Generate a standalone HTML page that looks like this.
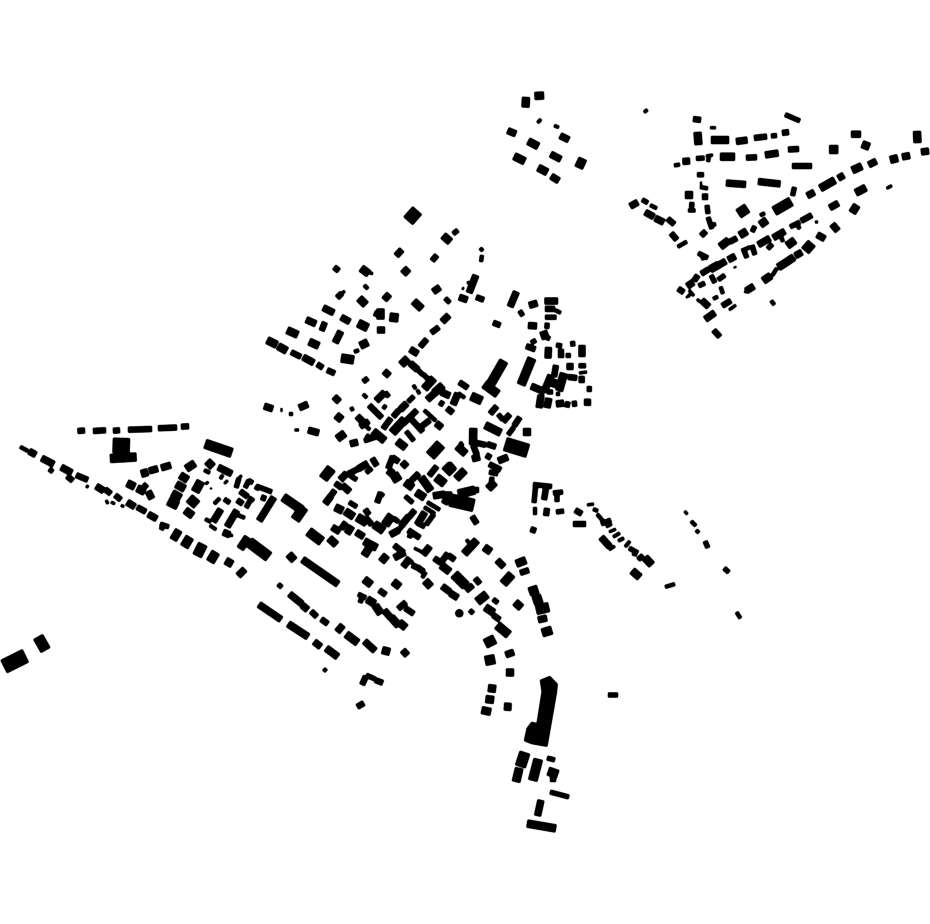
<!DOCTYPE html>
<html><head><meta charset="utf-8"><title>Map</title>
<style>html,body{margin:0;padding:0;background:#fff;width:930px;height:924px;overflow:hidden}svg{display:block}</style></head>
<body>
<svg xmlns="http://www.w3.org/2000/svg" width="930" height="924" viewBox="0 0 930 924" fill="none" stroke="#000">
<defs><filter id="d" x="0" y="0" width="930" height="924" filterUnits="userSpaceOnUse" color-interpolation-filters="sRGB"><feGaussianBlur stdDeviation="0.7"/><feComponentTransfer><feFuncA type="linear" slope="2.5" intercept="-0.35"/></feComponentTransfer></filter></defs>
<g filter="url(#d)">
<!-- SW -->
<path stroke-width="14.6" d="M3.7 666.7 25.7 655.7"/>
<path stroke-width="11" d="M38 636.7 45.7 650.3"/>
<path stroke-width="6" d="M77.5 431 85 430.5M93 431 106 430.3M113 430.7 120 430.3M128 429.7 152 429M158 428.3 177 427.5M181 426.7 189 426.3"/>
<path stroke-width="17" d="M121.5 438 121 453"/>
<path stroke-width="9" d="M110 458.5 136.5 457"/>
<path stroke-width="4" d="M20 446.7 28 451"/>
<path stroke-width="7" d="M29 451 36 455M41.5 458 54 464.5M61 467 72 473M96 486 104 491M127 502 135 507M148 514 157 519M149 471 158 468.5M161 468 171 465M148 491 152 499M238 576 245 569"/>
<path stroke-width="6" d="M76 475 88 480M67 476 73 481M105 489 111 494M115 495 121 500M137 507 146 512"/>
<path stroke-width="5" d="M49 469 53 472M160 524 169 527M163 526 161 530"/>
<path stroke-width="3" d="M86.5 488 88 485M106 500 108 504M111 502 115 504M121 505 124 507"/>
<path stroke-width="8" d="M179 530 173 540M231 559 227 566M141 474 148 472M127 483 135 487M137 488 145 492M186 469 195 463M180 475 188 480M176 484 185 489M172 493 181 498M185 510 193 516M207 461 213 467"/>
<path stroke-width="9" d="M190 537 184 547M216 552 210 562M168 501 178 506M201 481 195 492"/>
<path stroke-width="10" d="M203 544 197 556M205 443.7 232 453M189 498 197 505M295 520 304 507"/>
<path stroke-width="6" d="M144 487 147 484M240 491 248 497M261 497 266 499M237 500 243 504"/>
<path stroke-width="7" d="M218 467 232 474M274 497 259 521M221 509 213 522M237 510 227 527M223 532 230 535"/>
<path stroke-width="4" d="M204 470 210 473M206 482 208 484M250 498 254 501M220 498 214 504M205 519 211 522M235 514 245 518M231 534 231 537"/>
<path stroke-width="5" d="M220 476 223 478M225 481 227 483M239 478 236 488M239 476 241 478M249 480 245 488M248 480 253 483M256 486 272 492M258 486 256 490M252 497 246 508M224 499 230 503"/>
<path stroke-width="8" d="M214 526 212 529M248 537 240 549"/>
<path stroke-width="2" d="M210 488 212 489"/>
<path stroke-width="11" d="M249 542 269 557"/>
<path stroke-width="9" d="M283 497 302 510M324 478 332 469"/>
<path stroke-width="10" d="M308.3 531.3 322 541.7"/>
<path stroke-width="8" d="M288.5 554 294.5 560.5M329 538 336.5 545"/>
<path stroke-width="7.5" d="M302.3 559.3 338.3 584.3M326 648 338 657M288 623.7 308.3 637"/>
<path stroke-width="5" d="M278 584 282 587.5M366 675 375 679"/>
<path stroke-width="7" d="M289.3 593.7 302 604M302 605 308 610M258.7 604.3 281.3 619.7M314 641.5 321 647M337 632 343 625M364.3 641 375.3 651M402.5 650 407.5 655.5"/>
<path stroke-width="6" d="M311 611 317 617M321 619 328 624M366 676 362 685M375 680 383 683M357 707 364 703"/>
<path stroke-width="4" d="M323.5 671.5 326.5 668.5"/>
<path stroke-width="8" d="M346 634 358 643M382 650 390 652"/>
<!-- centre south -->
<path stroke-width="8" d="M364 579 371.5 585M393 581.5 400 587M367 599 375 604M375 605 381 614M391 617 399 626M399 622 406 628"/>
<path stroke-width="6" d="M379 590 386 595M398 609 406 602M405 608 414 614"/>
<path stroke-width="5" d="M358 594 366 598M362 597 360 603"/>
<path stroke-width="7" d="M384 610 391 618"/>
<path stroke-width="6" d="M381 492 377 503M330 497 335 490M335 483 342 488M348 474 358 469M372 458 377 466M411 481 419 473M429 476 437 466"/>
<path stroke-width="4" d="M380 493 384 496"/>
<path stroke-width="7" d="M325 504 331 496M342 485 350 492M340 480 347 473M358 469 368 463"/>
<path stroke-width="5" d="M350 475.5 357 480M366 473 372 468"/>
<path stroke-width="10" d="M323 479 331.5 468M445 465 453 473"/>
<path stroke-width="6" d="M392 457 399 462M393 456 388 469"/>
<path stroke-width="7" d="M402 462 407 467"/>
<path stroke-width="8" d="M388 470 393 474M405 482 413 488M421 477 431 491M456 479 465 470"/>
<path stroke-width="9" d="M392 480 400 475M436 477 445 484"/>
<path stroke-width="5" d="M449 463 455 470M460 445 463 443"/>
<path stroke-width="11" d="M430 456 441 444"/>
<path stroke-width="8" d="M457 446 466 454M473.3 428 473 445"/>
<path stroke-width="6" d="M473 445 477 455M477 443 486 445M487 444 496 447M486 455 491 458M489 464 501 470"/>
<path stroke-width="7" d="M472 459 480 457M498 461 508 457"/>
<path stroke-width="5" d="M489 472 498 474M492 477 491 485"/>
<path stroke-width="8" d="M488 489 495 482M485 425 501 433M523 432 531 432"/>
<path stroke-width="14" d="M505 444 528 451"/>
<path stroke-width="5" d="M508 435 514 427"/>
<path stroke-width="6" d="M514 426 520 417M490 414 497 406M503 422 510 414"/>
<path stroke-width="5" d="M498 414 503 420"/>
<path stroke-width="9.5" d="M504 360.7 491 383.3"/>
<path stroke-width="9" d="M484 384 498 394.3M471 396 482 401"/>
<path stroke-width="6" d="M459 382 468 388"/>
<path stroke-width="7" d="M453 405 458 393M441 392 450 396M427 400 436 392"/>
<path stroke-width="4" d="M458 393 465 398"/>
<path stroke-width="8" d="M448 413 452 408M434 393 443 385M424 389 434 378M401 365 408 358"/>
<path stroke-width="5" d="M440 406 443 401M418 370 423 375M423 374 428 379"/>
<path stroke-width="7" d="M410 363 418 370M410 349 418 354M442 322 449 315M459 297 467.5 300M433 292 440 287"/>
<path stroke-width="6" d="M420 347 427 339M431 333 439 327M476 297 484 300"/>
<path stroke-width="8" d="M413.5 301 422 309"/>
<path stroke-width="5" d="M445 298 450 303M453 234 458 230"/>
<path stroke-width="7" d="M476 275 469 293"/>
<path stroke-width="3" d="M462 288 464 289M467 282 473 285"/>
<path stroke-width="4" d="M482 255 481 262M480 248 483 251"/>
<path stroke-width="8" d="M443 235.4 450.5 242"/>
<path stroke-width="12.5" d="M408 221 417.4 210.4"/>
<path stroke-width="6.5" d="M396 256 402 249.5"/>
<!-- NW scatter -->
<path stroke-width="6" d="M432 261 437 255M334 267 339 271M337 298 342 293"/>
<path stroke-width="8" d="M403 268.5 408.5 274M361 268 369 274M359 298 366 305M380.5 308.5 380.5 319.5M267 340 277 345M278 346 287 351M287 330 298 335M309 341.5 319 346M360 346 368 342"/>
<path stroke-width="3" d="M368 272 373 274M342 293 345 291"/>
<path stroke-width="4" d="M364 285 368 289M354 352 359 350M363 394 367 398M351 407 353 411"/>
<path stroke-width="7" d="M384 300 389.5 294M377 330 385 330M323 307.5 334 313M341 317 350 322M306 319.5 316 324M341 331 335 343M303 357 314 363M384 371 389.5 376M264 406 273 409M299 408 308 404M308 430 319 433"/>
<path stroke-width="6" d="M374 313 378 314.5M325 322 321.5 331M291 352 301 357M317 364 323 368M327 370 335 373.5"/>
<path stroke-width="9" d="M394.5 313 393.5 322M358 323 368 328M341 358 354 360"/>
<path stroke-width="5.5" d="M363 382 368 378"/>
<path stroke-width="2" d="M281.5 408 281.5 412"/>
<path stroke-width="4" d="M289 414 293 414"/>
<path stroke-width="3" d="M294.5 430 299 430"/>
<path stroke-width="8" d="M337 439 345 433M336 415 342 420M373 431 385 441M397 441 406 448"/>
<path stroke-width="7" d="M334 396.5 339.5 402M357 416 363 422M376 401 385 392M350 444 358 442"/>
<path stroke-width="6" d="M360 427 369 421M369 405 382 418M393 417 399 410M383 429 391 418M403 424 411 416M412 420 423 432M422 426 430 420"/>
<path stroke-width="5" d="M385 392 389 397M408 402 414 396M417 393 420 391M413 388 416 386M364 441 376 437M366 435 372 440M406 431 414 441"/>
<path stroke-width="4" d="M364 424 370 430M383 409 386 405M424 410 436 421"/>
<path stroke-width="7" d="M400 410 407 403M436 423 442 428"/>
<path stroke-width="6" d="M410 417 417 410"/>
<path stroke-width="9" d="M392 433 405 419"/>
<!-- south-centre rows -->
<path stroke-width="8" d="M335 507 343 511M345 511 354 517"/>
<path stroke-width="5" d="M349 502 357 507"/>
<path stroke-width="6" d="M365 509 369 515M366 518 372 525M341 529 346 522M409 517 415 510"/>
<path stroke-width="9" d="M357 517 367 523M374 524 384 531M385 525 392 515"/>
<path stroke-width="7" d="M332 527 340 532M347 534 352 526M356 532 364 537M401 526 409 516M417 525 425 512"/>
<path stroke-width="5" d="M393.5 518 398.5 522M405 496 413 503M426 525 434 514M417 523 425 527M396 533 403 525M411 533 409 538"/>
<path stroke-width="8" d="M416 492 425 498M364 541 377 548M371 545 364 556"/>
<path stroke-width="4" d="M427 502 440 510M424 507 435 514"/>
<path stroke-width="7" d="M390 535 399 530M394 558 405 552M403 567 410 558"/>
<path stroke-width="6" d="M408 530 420 538M394 545 404 553M412 565 418 568M417 567 424 572M448 555 455 560M440 564 448 553M434 558 441 563M466 591 473 585M475 578 480 584"/>
<path stroke-width="9" d="M381 556 387 561"/>
<path stroke-width="4" d="M407 560 413 563M422 578 426 572M466 542 469 540"/>
<path stroke-width="8" d="M425 580.5 431 587M441 565 450 572M464 554 477 540M484 547 491 552"/>
<path stroke-width="3" d="M414 548 422 552"/>
<path stroke-width="7" d="M423 555 430 546M442 586 450 592M450 593 458 598M497 560 504 567"/>
<path stroke-width="10" d="M454 574 466 586"/>
<path stroke-width="8" d="M516 564 526 560"/>
<path stroke-width="6" d="M520 573 529 570M472 516 477 524M530.5 529 536 531"/>
<path stroke-width="9" d="M503 584 512 574M529 592 538 589M533 601 542 598M542 633 552 630M477 602 487 594M497 625 509 635"/>
<path stroke-width="10" d="M536 610 549 607M485 644 495 639M485 661 495 659"/>
<path stroke-width="7" d="M538 620 547 618M505.5 655 514 652"/>
<path stroke-width="8" d="M515 602 521.5 608M485 607 494 613M506 672.5 514 672.5M488 688 496 689M485.5 699 494 700M481.5 710 491 712M504 706.5 511.5 707"/>
<path stroke-width="5" d="M493 599 498 603M469.5 610 473.5 613.5"/>
<path stroke-width="6" d="M493 615 500 620"/>
<circle cx="459.3" cy="613.3" r="4" fill="#000" stroke="none"/>
<!-- town hall block -->
<path stroke-width="13" d="M450 500 474 505.5"/>
<path stroke-width="9" d="M458 494 475 490"/>
<path stroke-width="6" d="M474 490 479 490"/>
<path stroke-width="7" d="M433 496 445 494M444 504 448 497"/>
<path stroke-width="5" d="M445 494 452 494"/>
<!-- E U-group -->
<path stroke-width="5" d="M533 484.5 552 486.5M535.5 487 534 503M557 491 557 502M553 493 563 492M556 512 564 511"/>
<path stroke-width="6" d="M546 488 544 500M547 508 546 516M575 510 582 514M573 524 586 524"/>
<path stroke-width="4" d="M535 507 535 515M593 509 598 511M597 514 603 521"/>
<path stroke-width="3" d="M587 505 594 504M606 527 612 524M609 532 616 529"/>
<path stroke-width="5" d="M601 524 611 520M629 548 638 553M636 550 634 556M638 560 643 555"/>
<path stroke-width="3.5" d="M613 537 620 533M618 541 624 538M625 547 630 541"/>
<path stroke-width="8" d="M644.7 557.3 652 565M632 570.5 640 577.5"/>
<path stroke-width="7" d="M601 537 610 547"/>
<path stroke-width="3" d="M609 550 615 546M684.5 511 687.5 514.5"/>
<path stroke-width="4" d="M665 587 675 584M691 521 696 526M696 530 699 533M736.5 612 740.5 618.5"/>
<path stroke-width="5" d="M705 541 708 548M724 568 729 572.5M608 695 618 695"/>
<!-- S complex -->
<polygon fill="#000" stroke="none" points="540,680 550,676 557.7,684 556.7,693.3 547.3,746.7 531.7,744 524,741 526.7,728.3 531.7,721.7 536.7,723.3 541.7,691.7"/>
<path stroke-width="11" d="M525 752.3 520.3 766.7"/>
<path stroke-width="8.5" d="M519.3 768 516 782"/>
<path stroke-width="9.5" d="M538.3 759 532.7 780.7"/>
<path stroke-width="5" d="M547 758 555 760M550 792 569 797"/>
<path stroke-width="9" d="M548 771 558 774.5"/>
<path stroke-width="6" d="M553 775 553 782"/>
<path stroke-width="7" d="M541 800 537.5 816"/>
<path stroke-width="8" d="M527 823.5 556 828.5"/>
<!-- N cluster -->
<path stroke-width="8" d="M526 97 525.5 107.5M534.5 96 544 95.5M528 141 538.5 146.5M514 156 525 161.5M538 167.5 547.5 172.5"/>
<path stroke-width="3.5" d="M537.5 123 541 119M554 125.5 559 127.5"/>
<path stroke-width="7" d="M507.5 130.5 516 134M560 135.5 569 140M550.5 154 561 159.5M551 176 559 181"/>
<path stroke-width="9" d="M578.5 168 583 158.5"/>
<!-- NE -->
<path stroke-width="3.5" d="M644 112.5 647.5 109.5"/>
<path stroke-width="6" d="M693 119 701 120M782 133 789 132M754 138 767 136.5M788 149.5 799 149M746 157.7 757 157.3M792 166 812 166"/>
<path stroke-width="3" d="M710 127.7 716 127.7M706 156 713 155M886.5 188.5 892 185.5"/>
<path stroke-width="5" d="M785 114.5 800 121M771 136 777 135.5M696 158.5 704.5 158M697 174.7 704 174.7M794.5 187 792.5 196"/>
<path stroke-width="8" d="M697.5 132 698.5 145M711 140 729 140M917 131 917.5 143M862 144 869.5 147M720 156.7 735 156.7M890 160 898 158M852 170.5 862 166M820 188.5 835 180M855.5 193 866 187.5M852 213 857 205"/>
<path stroke-width="7" d="M736 141.5 747.5 140M851 134.3 861 134.3M921 152 929 151M902 157 910 155.5M868.5 165 876.5 161M765 155 778.5 153M682.5 161.5 690 161M726 183 746 184.5M758 181.5 780.5 184M807 196 814.5 192M838 178.5 844 175M829.5 208 838.5 203M832 224 838 231M817 234.5 825 239"/>
<path stroke-width="9" d="M833.7 145 833.7 154"/>
<path stroke-width="4" d="M709 156 708 162M674 165.5 680 164.5M700 187 708 188.5M688 210.5 695.5 210.5"/>
<path stroke-width="7" d="M700 185 702 185"/>
<path stroke-width="8" d="M685 195 693 195"/>
<path stroke-width="6" d="M705 193.5 705 200M701 236 706 231"/>
<path stroke-width="5" d="M692 202 691.5 208M707 205 708 214M708 217 712 229"/>
<path stroke-width="4" d="M712 225 716 224M760 215.5 765 213"/>
<path stroke-width="11" d="M740 206.7 745.7 215.3"/>
<path stroke-width="10" d="M774 211.3 791.3 201.3M805 251 812 243"/>
<path stroke-width="8" d="M760 225 767 220M739.5 235.5 747 231M720 247 729 240M710 269.5 719 264.5M787 246 795 240M786 262.5 794 257M778 267.5 786 262.5M763 281 771 275.5"/>
<path stroke-width="5" d="M752 232 755 226M698 253 708 258M702 254 704 260M743 248 747 258M752 245 755 255M767.5 249 772.5 244M790 227 800 222"/>
<path stroke-width="6" d="M729.5 242 737 238M701 274 709 269M801 221 812 215"/>
<path stroke-width="7" d="M718 265.5 726 261M728 260 735.5 256M758 245 770 238M773 238 785 231M795 256 802 252M746 291 754 286"/>
<path stroke-width="4" d="M742 251 750 247M780 233 783 242M797 225 800 229M772 276 777 268M771 300.5 774.5 305M720.5 286.5 723 294"/>
<path stroke-width="3" d="M815 222 818 222M745 293 747 289"/>
<path stroke-width="2" d="M733.5 268 736.5 266.5"/>
<path stroke-width="5" d="M711 275 715 283M718 280 725 275M698.5 286 705 283"/>
<path stroke-width="6" d="M694 281 698 275M678 288.5 684 292.5"/>
<path stroke-width="7" d="M687 286.5 693.5 282M701.5 300 709 307M705 319.5 715 312.5"/>
<path stroke-width="3" d="M689 290 694 296M690 294 688 297M697 299 700 302M729 310 736 305"/>
<path stroke-width="2" d="M686 298 688 296"/>
<path stroke-width="4" d="M713 299 718 296.5"/>
<path stroke-width="6" d="M722 306 731 300.5M713.5 330 720 337"/>
<path stroke-width="7" d="M630 206.5 638 202M645 212 654 217M655 218 664 222.5"/>
<path stroke-width="5" d="M642 199.5 648 203"/>
<path stroke-width="4" d="M650 205 657 208.5M677.5 247 687 241.5"/>
<path stroke-width="6" d="M667.5 218.5 674.5 224.5M671 233 677 240"/>
<!-- centre-north east block -->
<path stroke-width="7" d="M516.5 291.5 510 307M529 305.5 537.5 303M544.5 301 558 301M528 325.5 537 326"/>
<path stroke-width="5" d="M519.5 310.5 523 316M531 343 536 340M545 317.3 556.5 317.3M546 337 550 339"/>
<path stroke-width="6" d="M545 309 555 309M493 322.5 500.5 325.5M544.5 325.5 549.5 326M526 346 535.5 349.5"/>
<path stroke-width="4" d="M555 310 561 313"/>
<path stroke-width="8" d="M543 331 546 339"/>
<path stroke-width="9" d="M532 358 521 385"/>
<path stroke-width="7" d="M548.5 347 548 358.5M582 345 582 357M570 363 570 370"/>
<path stroke-width="5" d="M556 345 562 346M572.5 341 573 346.5M568.3 353 568.3 358M578.5 365.7 586 365.7M589.3 386 589.3 392M547 392 553 392"/>
<path stroke-width="6" d="M561 349 561 358M556 365 554 377M568 377 577 378M581.7 376 581.7 383M555 379 552 387"/>
<path stroke-width="3" d="M579 373 587 372"/>
<path stroke-width="8" d="M564 373 559 391"/>
<path stroke-width="7" d="M584 402.3 591 402.3M551 375 544 392M531 386 545 392M541 395 539 408M549 398 547 408M556 404 564 403"/>
<path stroke-width="4" d="M558 392 558 396"/>
<path stroke-width="6" d="M565 404 570 405M572 404 577 403.5"/>
</g>
</svg>
</body></html>
